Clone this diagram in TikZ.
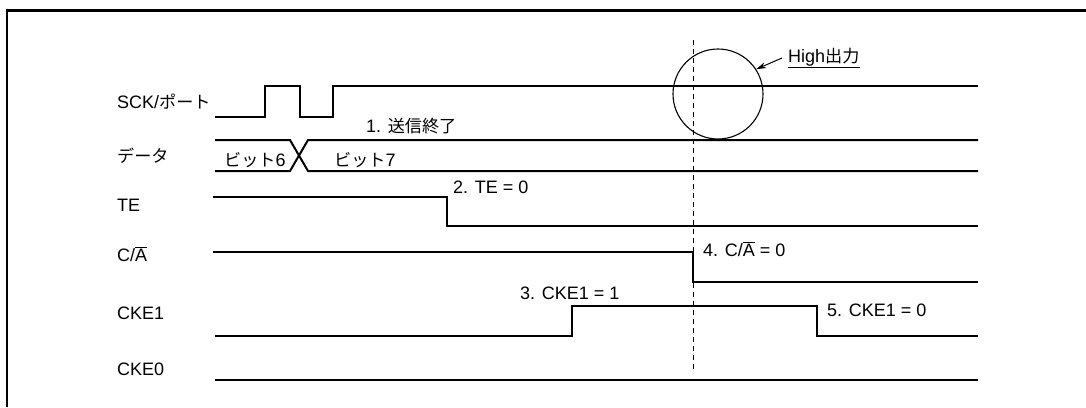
\documentclass[tikz,border=0pt]{standalone}
\usepackage{fontspec}
\setmainfont{Liberation Sans}
\newfontfamily\cjk[Scale=0.95]{Noto Sans CJK JP}
\usetikzlibrary{arrows.meta}
\newcommand\fs{\fontsize{18}{21}\selectfont}
\newcommand\ovl[1]{$\overline{\hbox{#1}}$}
\begin{document}
\begin{tikzpicture}[x=1pt,y=-1pt,
  sig/.style={line width=2pt, line join=miter},
  lbl/.style={anchor=base west, inner sep=0pt, font=\fs},
  frame/.style={line width=2.6pt}]
\useasboundingbox (0,0) rectangle (1086,407);
% frame (partial)
\draw[frame] (7,407) -- (7,10.5) -- (1086,10.5);
% signal names
\node[lbl] (nsck) at (117,108) {SCK/{\cjk ポート}};
\node[lbl] (ndata) at (117,162) {\cjk データ};
\node[lbl] (nte) at (117,211) {TE};
\node[lbl] (nca) at (117,261) {C/\ovl{A}};
\node[lbl] (ncke1) at (117,319) {CKE1};
\node[lbl] (ncke0) at (117,375) {CKE0};
% SCK
\draw[sig] (215,117) -- (265,117) -- (265,86) -- (300,86) -- (300,117) -- (333,117) -- (333,86) -- (978,86);
% data
\draw[sig] (215,140) -- (290,140) -- (308,171) -- (978,171);
\draw[sig] (215,171) -- (290,171) -- (308,140) -- (978,140);
\node[lbl] (b6) at (224,166) {{\cjk ビット}6};
\node[lbl] (b7) at (334,166) {{\cjk ビット}7};
\node[lbl] (t1) at (366,132) {1. {\cjk 送信終了}};
% TE
\draw[sig] (213,197) -- (447,197) -- (447,226) -- (978,226);
\node[lbl] (t2) at (453,193) {2. TE = 0};
% C/A
\draw[sig] (213,252) -- (693,252) -- (693,282) -- (978,282);
\node[lbl] (t4) at (703,256) {4. C/\ovl{A} = 0};
% CKE1
\draw[sig] (215,336) -- (572,336) -- (572,306) -- (817,306) -- (817,336) -- (978,336);
\node[lbl] (t3) at (520,299) {3. CKE1 = 1};
\node[lbl] (t5) at (827,316) {5. CKE1 = 0};
% CKE0
\draw[sig] (215,380) -- (978,380);
% dashed marker
\coordinate (dtop) at (693,40);
\coordinate (dbot) at (693,369);
\draw[line width=0.9pt, dash pattern=on 5pt off 4pt] (dtop) -- (dbot);
% circle and callout
\node[circle, draw, line width=1.1pt, minimum size=90pt, inner sep=0pt] (circ) at (718,94) {};
\node[lbl] (high) at (788,62) {High{\cjk 出力}};
\draw[line width=1.1pt] (high.base west) ++(0,5.5) -- ++(72,0);
\coordinate (astart) at (782,58);
\draw[line width=1pt, -{Stealth[length=10pt,width=6pt]}] (astart) -- (circ.33);
\end{tikzpicture}
\end{document}
